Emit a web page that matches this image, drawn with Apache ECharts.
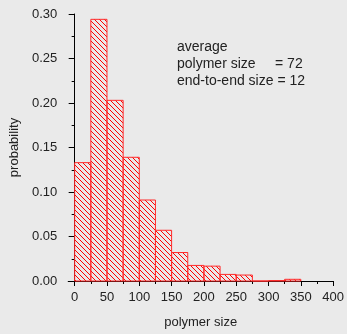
<!DOCTYPE html>
<html><head><meta charset="utf-8">
<script src="https://cdn.jsdelivr.net/npm/echarts@6/dist/echarts.min.js"></script>
<style>html,body{margin:0;padding:0;background:#eaeaea;}#c{width:347px;height:334px;}</style>
</head><body><div id="c"></div>
<script>
const binStarts = [0,25,50,75,100,125,150,175,200,225,250,275,300,325];
const binWidth = 25;
const probabilities = [0.133,0.294,0.203,0.139,0.091,0.057,0.032,0.0175,0.0167,0.0074,0.0067,0,0.0005,0.0019];
const xMajorTicks = [0,50,100,150,200,250,300,350,400];
const xMinorTicks = [25,75,125,175,225,275,325,375];
const annotation = ['average','polymer size     = 72','end-to-end size = 12'];

const tile = document.createElement('canvas');
const s = 5; tile.width = s; tile.height = s;
const g = tile.getContext('2d');
g.strokeStyle = '#ff0000'; g.lineWidth = 1;
g.beginPath();
g.moveTo(-1,-1); g.lineTo(s+1,s+1);
g.moveTo(s-1,-1); g.lineTo(s+1,1);
g.moveTo(-1,s-1); g.lineTo(1,s+1);
g.stroke();

const font = '"Liberation Sans", Arial, sans-serif';
const chart = echarts.init(document.getElementById('c'));
const data = binStarts.map((b,i)=>[b, b+binWidth, probabilities[i]]);
chart.setOption({
  backgroundColor:'#eaeaea',
  animation:false,
  grid:{left:66, top:14, right:11, bottom:50},
  xAxis:[{
    type:'value', min:-10, max:400,
    name:'polymer size', nameLocation:'middle', nameGap:35,
    nameTextStyle:{fontFamily:font, fontSize:13, color:'#222'},
    axisLine:{show:true, onZero:false, lineStyle:{color:'#000', width:1}},
    axisTick:{show:true, length:5, customValues:xMajorTicks, lineStyle:{color:'#000'}},
    axisLabel:{customValues:xMajorTicks, margin:10, fontFamily:font, fontSize:13, color:'#222'},
    splitLine:{show:false}
  },{
    type:'value', min:-10, max:400, position:'bottom',
    axisLine:{show:false},
    axisTick:{show:true, length:3, customValues:xMinorTicks, lineStyle:{color:'#000'}},
    axisLabel:{show:false, customValues:xMinorTicks},
    splitLine:{show:false}
  }],
  yAxis:{
    type:'value', min:0, max:0.3, interval:0.05,
    name:'probability', nameLocation:'middle', nameGap:40,
    nameTextStyle:{fontFamily:font, fontSize:13, color:'#222'},
    axisLine:{show:true, lineStyle:{color:'#000', width:1}},
    axisTick:{show:true, length:6, lineStyle:{color:'#000'}},
    minorTick:{show:true, splitNumber:2, length:3, lineStyle:{color:'#000'}},
    axisLabel:{margin:11, fontFamily:font, fontSize:13, color:'#222', formatter:v=>v.toFixed(2)},
    splitLine:{show:false}
  },
  series:[{
    type:'custom',
    data:data,
    encode:{x:[0,1], y:2},
    renderItem:function(params, api){
      const p0 = api.coord([api.value(0), 0]);
      const p1 = api.coord([api.value(1), api.value(2)]);
      return {
        type:'rect',
        shape:{x:p0[0], y:p1[1], width:p1[0]-p0[0], height:p0[1]-p1[1]},
        style:{fill:{image:tile, repeat:'repeat'}, stroke:'#ff2a2a', lineWidth:1}
      };
    }
  }],
  graphic:annotation.map((t,i)=>({
    type:'text', left:177, top:40+i*17,
    style:{text:t, fontFamily:font, fontSize:14, fill:'#222'}
  }))
});
</script></body></html>
